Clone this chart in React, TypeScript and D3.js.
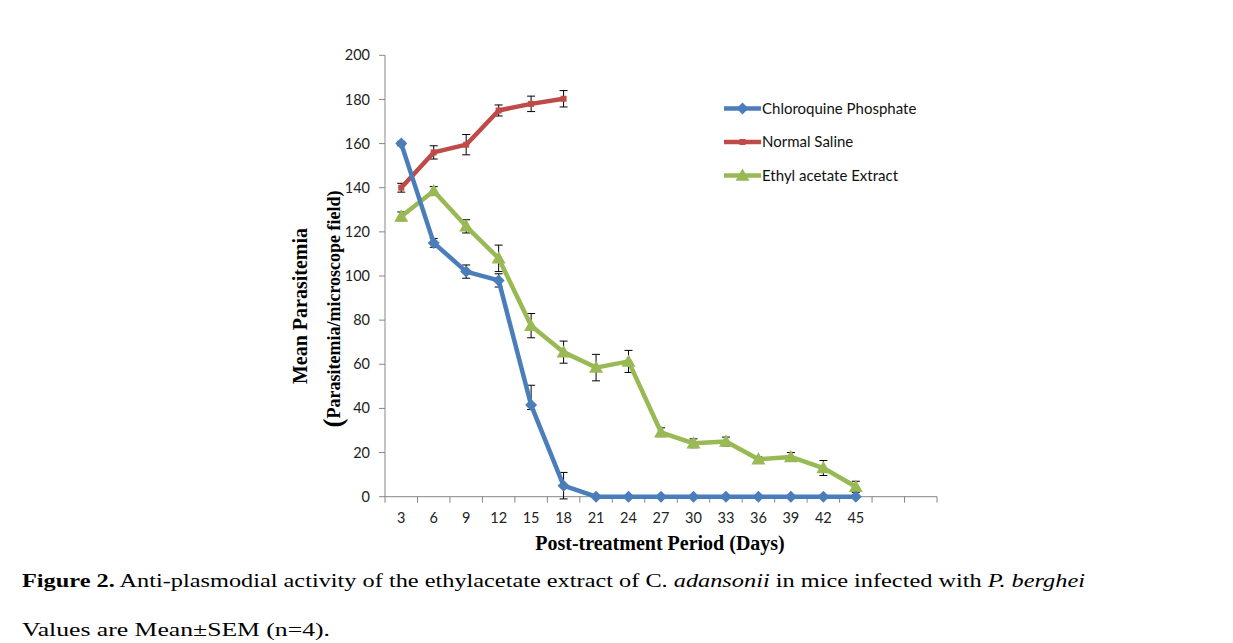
import React from "react";
import * as d3 from "d3";

const days = ["3", "6", "9", "12", "15", "18", "21", "24", "27", "30", "33", "36", "39", "42", "45", "", ""];
const yTicks = [0, 20, 40, 60, 80, 100, 120, 140, 160, 180, 200];

const chloroquine = [160, 115, 102, 98, 41.5, 5, 0, 0, 0, 0, 0, 0, 0, 0, 0];
const chloroquineErrUp = [1, 2, 3, 3, 9, 6, 0, 0, 0, 0, 0, 0, 0, 0, 0];
const chloroquineErrDown = [1, 2, 3, 3, 2, 6, 0, 0, 0, 0, 0, 0, 0, 0, 0];
const saline = [140, 156, 159.5, 175, 178, 180.3];
const salineErr = [2, 3, 4.6, 2.5, 3.5, 3.7];
const ethyl = [127, 138.5, 122.5, 108, 77.5, 65.5, 58.5, 61.3, 29.2, 24.2, 25, 17, 18, 13, 4.5];
const ethylErr = [2, 2, 3, 6, 5.5, 5, 6, 5, 2, 2, 2, 1, 2, 3.4, 2.5];

const seriesNames = ["Chloroquine Phosphate", "Normal Saline", "Ethyl acetate Extract"];
const seriesColors = ["#4a7ebb", "#be4b48", "#98b954"];

const W = 1233, H = 643;
const x = d3.scaleBand<number>().domain(d3.range(days.length)).range([385, 937]).padding(0);
const y = d3.scaleLinear().domain([0, 200]).range([496.7, 55.3]);
const cx = (i: number) => (x(i) as number) + x.bandwidth() / 2;

const tickFont = "Lato, 'Open Sans', sans-serif";
const serif = "'Liberation Serif', 'Times New Roman', serif";

function Marker({ kind, px, py, color }: { kind: string; px: number; py: number; color: string }) {
  if (kind === "diamond") {
    const s = 6;
    return <path d={`M${px},${py - s}L${px + s},${py}L${px},${py + s}L${px - s},${py}Z`} fill={color} />;
  }
  if (kind === "square") {
    return <rect x={px - 3} y={py - 3} width={6} height={6} fill={color} />;
  }
  const s = 7;
  return <path d={`M${px},${py - s}L${px + s},${py + s * 0.75}L${px - s},${py + s * 0.75}Z`} fill={color} />;
}

function Series({ data, errUp, errDown, color, kind }: { data: number[]; errUp: number[]; errDown: number[]; color: string; kind: string }) {
  const line = d3.line<number>().x((_, i) => cx(i)).y((d) => y(d));
  return (
    <g>
      {data.map((d, i) =>
        errUp[i] > 0 ? (
          <g key={"e" + i} stroke="#000" strokeWidth={1}>
            <line x1={cx(i)} x2={cx(i)} y1={y(d - errDown[i])} y2={y(d + errUp[i])} />
            <line x1={cx(i) - 4} x2={cx(i) + 4} y1={y(d + errUp[i])} y2={y(d + errUp[i])} />
            <line x1={cx(i) - 4} x2={cx(i) + 4} y1={y(d - errDown[i])} y2={y(d - errDown[i])} />
          </g>
        ) : null
      )}
      <path d={line(data) || ""} fill="none" stroke={color} strokeWidth={4.5} strokeLinejoin="round" />
      {data.map((d, i) => (
        <Marker key={"m" + i} kind={kind} px={cx(i)} py={y(d)} color={color} />
      ))}
    </g>
  );
}

export default function App() {
  const kinds = ["diamond", "square", "triangle"];
  return (
    <svg width={W} height={H} style={{ position: "absolute", left: 0, top: 0, background: "#fff" }}>
      <line x1={385} x2={385} y1={y(200)} y2={y(0)} stroke="#868686" strokeWidth={1} />
      <line x1={385} x2={937} y1={y(0)} y2={y(0)} stroke="#868686" strokeWidth={1} />
      {yTicks.map((t) => (
        <g key={t}>
          <line x1={379} x2={385} y1={y(t)} y2={y(t)} stroke="#868686" />
          <text x={370} y={y(t)} dy="0.35em" textAnchor="end" fontFamily={tickFont} fontSize={14.5} fill="#222">
            {t}
          </text>
        </g>
      ))}
      {d3.range(days.length + 1).map((i) => {
        const xx = 385 + i * x.bandwidth();
        return <line key={i} x1={xx} x2={xx} y1={y(0)} y2={y(0) + 6} stroke="#868686" />;
      })}
      {days.map((d, i) => (
        <text key={i} x={cx(i)} y={523} textAnchor="middle" fontFamily={tickFont} fontSize={14.5} fill="#222">
          {d}
        </text>
      ))}

      <Series data={ethyl} errUp={ethylErr} errDown={ethylErr} color={seriesColors[2]} kind="triangle" />
      <Series data={saline} errUp={salineErr} errDown={salineErr} color={seriesColors[1]} kind="square" />
      <Series data={chloroquine} errUp={chloroquineErrUp} errDown={chloroquineErrDown} color={seriesColors[0]} kind="diamond" />

      {seriesNames.map((n, i) => {
        const ly = 108.5 + i * 33.5;
        return (
          <g key={n}>
            <line x1={724} x2={761} y1={ly} y2={ly} stroke={seriesColors[i]} strokeWidth={4.5} />
            <Marker kind={kinds[i]} px={742.5} py={ly} color={seriesColors[i]} />
            <text x={762} y={ly} dy="0.35em" fontFamily={tickFont} fontSize={15} fill="#111">
              {n}
            </text>
          </g>
        );
      })}

      <text x={660} y={550} textAnchor="middle" fontFamily={serif} fontWeight="bold" fontSize={20} fill="#000">
        Post-treatment Period (Days)
      </text>
      <text transform="translate(307,306) rotate(-90)" textAnchor="middle" fontFamily={serif} fontWeight="bold" fontSize={20} fill="#000">
        Mean Parasitemia
      </text>
      <text transform="translate(340,309) rotate(-90)" textAnchor="middle" fontFamily={serif} fontWeight="bold" fontSize={18} fill="#000">
        <tspan fontSize={27} dy={2}>(</tspan>
        <tspan dy={-2}>Parasitemia/microscope field)</tspan>
      </text>

      <text x={22} y={587} fontFamily={serif} fontSize={19} fill="#000" textLength={1063} lengthAdjust="spacingAndGlyphs">
        <tspan fontWeight="bold">Figure 2.</tspan>
        <tspan> Anti-plasmodial activity of the ethylacetate extract of C. </tspan>
        <tspan fontStyle="italic">adansonii</tspan>
        <tspan> in mice infected with </tspan>
        <tspan fontStyle="italic">P. berghei</tspan>
      </text>
      <text x={22} y={636} fontFamily={serif} fontSize={19} fill="#000" textLength={308} lengthAdjust="spacingAndGlyphs">
        Values are Mean±SEM (n=4).
      </text>
    </svg>
  );
}
